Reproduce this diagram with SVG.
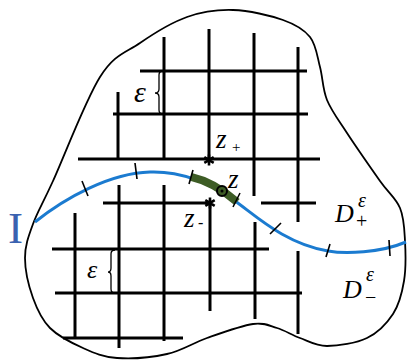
<svg xmlns="http://www.w3.org/2000/svg" width="407" height="362" viewBox="0 0 407 362">
<style>
.g{stroke:#000;stroke-width:3;fill:none;stroke-linecap:butt}
.t{stroke:#000;stroke-width:1.6;fill:none}
.br{stroke:#000;stroke-width:1.3;fill:none}
.m{font-family:"Liberation Serif","DejaVu Serif",serif;font-style:italic;fill:#000}
.n{font-family:"Liberation Serif","DejaVu Serif",serif;fill:#000}
</style>
<rect width="407" height="362" fill="#fff"/>
<g id="domain">
<path fill="none" stroke="#000" stroke-width="1.8" d="M53,181 C64.2,156.5 85.5,100 100,77 C114.5,54 125.5,53 140,43 C154.5,33 171.5,22.5 187,17 C202.5,11.5 217,9.5 233,10 C249,10.5 270.2,15.5 283,20 C295.8,24.5 303.8,29.2 310,37 C316.2,44.8 317.2,56.5 320,67 C322.8,77.5 322.5,89 327,100 C331.5,111 338.2,119.5 347,133 C355.8,146.5 371.2,168.5 380,181 C388.8,193.5 395.8,198 400,208 C404.2,218 404.3,228.8 405,241 C405.7,253.2 406,268.8 404,281 C402,293.2 399.2,304.5 393,314 C386.8,323.5 378,332.7 367,338 C356,343.3 338.2,346 327,346 C315.8,346 308.3,341 300,338 C291.7,335 284.8,330.3 277,328 C269.2,325.7 264.7,322.3 253,324 C241.3,325.7 221.3,333 207,338 C192.7,343 182,350.7 167,354 C152,357.3 131,359 117,358 C103,357 94.2,353 83,348 C71.8,343 58.3,336.3 50,328 C41.7,319.7 37.2,309.7 33,298 C28.8,286.3 25,270.3 25,258 C25,245.7 28.3,236.8 33,224 C37.7,211.2 41.8,205.5 53,181 Z"/>
</g>
<g id="grid-upper" class="g">
<line x1="140" y1="71" x2="307" y2="71"/>
<line x1="113" y1="114" x2="308" y2="114"/>
<line x1="78" y1="159" x2="320" y2="159"/>
<line x1="118" y1="92" x2="118" y2="159"/>
<line x1="164" y1="37" x2="164" y2="159"/>
<line x1="209" y1="29" x2="209" y2="160"/>
<line x1="254" y1="33" x2="254" y2="196"/>
<line x1="298" y1="47" x2="298" y2="222"/>
<line x1="261" y1="203" x2="316" y2="203"/>
</g>
<g id="grid-lower" class="g">
<line x1="103" y1="203" x2="210" y2="203"/>
<line x1="52" y1="249" x2="269" y2="249"/>
<line x1="55" y1="293" x2="302" y2="293"/>
<line x1="63" y1="338" x2="183" y2="338"/>
<line x1="75" y1="213" x2="75" y2="338"/>
<line x1="119" y1="185" x2="119" y2="348"/>
<line x1="164" y1="185" x2="164" y2="341"/>
<line x1="210" y1="203" x2="210" y2="311"/>
<line x1="255" y1="222" x2="255" y2="319"/>
<line x1="298" y1="251" x2="298" y2="334"/>
</g>
<g id="braces" class="br">
<path d="M163,71 Q159,71 159,75 L159,89 Q159,93 155,93 Q159,93 159,97 L159,110 Q159,114 163,114"/>
<path d="M115,250 Q111,250 111,254 L111,268 Q111,272 108,272 Q111,272 111,276 L111,289 Q111,293 115,293"/>
</g>
<g id="curve">
<path fill="none" stroke="#1b7bd0" stroke-width="3" d="M35,222 C65,198 110,173 150,172 C180,171 210,183 235,201 C255,215 285,244 328,251 C345,254 380,253 406,242"/>
<path fill="none" stroke="#3d5c25" stroke-width="8" d="M191,176.8 C205,180 220,187 237,202"/>
<g class="t">
<line x1="82" y1="181" x2="88" y2="196"/>
<line x1="135" y1="163" x2="137" y2="179"/>
<line x1="193" y1="170" x2="189" y2="184"/>
<line x1="233" y1="207" x2="240" y2="193"/>
<line x1="270" y1="234" x2="281" y2="223"/>
<line x1="326" y1="257" x2="330" y2="244"/>
<line x1="389" y1="240" x2="390" y2="256"/>
</g>
</g>
<g id="point-z">
<circle cx="222" cy="191" r="5" fill="#3d5c25" stroke="#000" stroke-width="2"/>
<circle cx="222" cy="191" r="1.5" fill="#000"/>
<text class="m" x="228" y="188" font-size="27">z</text>
</g>
<g id="point-zplus">
<path stroke="#000" stroke-width="2.6" d="M209,154.5 V165.5 M204.3,157.2 L213.7,162.8 M204.3,162.8 L213.7,157.2"/>
<text class="m" x="216" y="148" font-size="27">z</text>
<text class="n" x="232" y="152" font-size="15">+</text>
</g>
<g id="point-zminus">
<path stroke="#000" stroke-width="2.6" d="M210,197.5 V208.5 M205.3,200.2 L214.7,205.8 M205.3,205.8 L214.7,200.2"/>
<text class="m" x="184" y="227" font-size="27">z</text>
<text class="n" x="198" y="228" font-size="16">-</text>
</g>
<g id="labels">
<text class="m" x="134" y="102" font-size="30">ε</text>
<text class="m" x="87" y="278" font-size="26">ε</text>
<text x="8" y="243" font-family="'Liberation Serif',serif" font-size="45" fill="#3a62b0">I</text>
<text class="m" x="335" y="222" font-size="26">D</text>
<text class="m" x="358" y="207" font-size="20">ε</text>
<text class="n" x="356" y="228" font-size="20">+</text>
<text class="m" x="343" y="298" font-size="26">D</text>
<text class="m" x="366" y="281" font-size="20">ε</text>
<text class="n" x="365" y="304" font-size="20">−</text>
</g>
</svg>
